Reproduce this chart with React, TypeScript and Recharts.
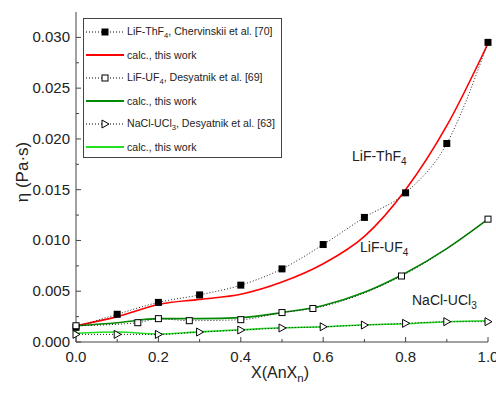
import { LineChart, Line, XAxis, YAxis } from 'recharts'

// LiF-ThF4, Chervinskii et al. [70]
const thf4ExpX = [0, 0.1, 0.2, 0.3, 0.4, 0.5, 0.6, 0.7, 0.8, 0.9, 1.0]
const thf4ExpY = [0.00145, 0.00273, 0.0039, 0.00464, 0.0056, 0.0072, 0.0096, 0.01227, 0.01469, 0.01955, 0.02951]

// LiF-UF4, Desyatnik et al. [69]
const uf4ExpX = [0, 0.15, 0.2, 0.275, 0.4, 0.5, 0.575, 0.79, 1.0]
const uf4ExpY = [0.0016, 0.0019, 0.0023, 0.0021, 0.0022, 0.0029, 0.0033, 0.0065, 0.0121]

// NaCl-UCl3, Desyatnik et al. [63]
const ucl3ExpX = [0, 0.1, 0.2, 0.3, 0.4, 0.5, 0.6, 0.7, 0.8, 0.9, 1.0]
const ucl3ExpY = [0.00075, 0.00075, 0.00075, 0.00098, 0.00118, 0.00138, 0.0015, 0.00167, 0.00184, 0.002, 0.002]

// calc., this work
const calcX = [0, 0.1, 0.2, 0.3, 0.4, 0.5, 0.6, 0.7, 0.8, 0.9, 1.0]
const thf4Calc = [0.0016, 0.0025, 0.0037, 0.0042, 0.0047, 0.0059, 0.0077, 0.0104, 0.015, 0.0213, 0.0294]
const uf4Calc = [0.0016, 0.0019, 0.0023, 0.0023, 0.0024, 0.0029, 0.0036, 0.0049, 0.0068, 0.0092, 0.0121]
const ucl3Calc = [0.00086, 0.00098, 0.00079, 0.001, 0.0012, 0.0014, 0.0015, 0.0017, 0.0018, 0.002, 0.0021]

const xTicks = [0, 0.1, 0.2, 0.3, 0.4, 0.5, 0.6, 0.7, 0.8, 0.9, 1.0]
const yTicks = [0, 0.0025, 0.005, 0.0075, 0.01, 0.0125, 0.015, 0.0175, 0.02, 0.0225, 0.025, 0.0275, 0.03]

const FONT = '"Liberation Sans", Arial, sans-serif'
const INK = '#222'
const FRAME = '#444'

const pts = (xs: number[], ys: number[]) => xs.map((x, i) => ({ x, y: ys[i] }))

const isMajorX = (v: number) => Math.round(v * 10) % 2 === 0
const isMajorY = (v: number) => Math.round(v * 10000) % 50 === 0

type TickProps = { x?: number; y?: number; payload?: { value: number } }

function BottomTick({ x = 0, y = 0, payload }: TickProps) {
  if (!payload) return null
  const major = isMajorX(payload.value)
  return (
    <g>
      <line x1={x} x2={x} y1={y} y2={y - (major ? 5 : 3)} stroke={FRAME} />
      {major && (
        <text x={x} y={y + 20} textAnchor="middle" fontSize={15} fill={INK} fontFamily={FONT}>
          {payload.value.toFixed(1)}
        </text>
      )}
    </g>
  )
}

function TopTick({ x = 0, y = 0, payload }: TickProps) {
  if (!payload) return null
  const major = isMajorX(payload.value)
  return <line x1={x} x2={x} y1={y} y2={y + (major ? 5 : 3)} stroke={FRAME} />
}

function LeftTick({ x = 0, y = 0, payload }: TickProps) {
  if (!payload) return null
  const major = isMajorY(payload.value)
  return (
    <g>
      <line x1={x} x2={x + (major ? 5 : 3)} y1={y} y2={y} stroke={FRAME} />
      {major && (
        <text x={x - 6} y={y + 5} textAnchor="end" fontSize={15} fill={INK} fontFamily={FONT}>
          {payload.value.toFixed(3)}
        </text>
      )}
    </g>
  )
}

function RightTick({ x = 0, y = 0, payload }: TickProps) {
  if (!payload) return null
  const major = isMajorY(payload.value)
  return <line x1={x} x2={x - (major ? 5 : 3)} y1={y} y2={y} stroke={FRAME} />
}

type DotProps = { cx?: number; cy?: number; index?: number }

const FilledSquare = ({ cx = 0, cy = 0, index }: DotProps) => (
  <rect key={`fs-${index}`} x={cx - 3.5} y={cy - 3.5} width={7} height={7} fill="#000" />
)
const OpenSquare = ({ cx = 0, cy = 0, index }: DotProps) => (
  <rect key={`os-${index}`} x={cx - 3} y={cy - 3} width={6} height={6} fill="#fff" stroke="#000" strokeWidth={1} />
)
const OpenTriangle = ({ cx = 0, cy = 0, index }: DotProps) => (
  <polygon
    key={`ot-${index}`}
    points={`${cx - 3},${cy - 4} ${cx + 4},${cy} ${cx - 3},${cy + 4}`}
    fill="#fff"
    stroke="#000"
    strokeWidth={1}
  />
)

function Sample({ color, dotted, marker }: { color: string; dotted?: boolean; marker?: 'fs' | 'os' | 'ot' }) {
  return (
    <svg width={40} height={12} style={{ display: 'block' }}>
      <line
        x1={1} x2={39} y1={6} y2={6}
        stroke={color}
        strokeWidth={dotted ? 1 : 2}
        strokeDasharray={dotted ? '1 2' : undefined}
      />
      {marker === 'fs' && <FilledSquare cx={20} cy={6} />}
      {marker === 'os' && <OpenSquare cx={20} cy={6} />}
      {marker === 'ot' && <OpenTriangle cx={20} cy={6} />}
    </svg>
  )
}

const subStyle = { fontSize: '0.72em', position: 'relative' as const, top: '0.35em' }

const legendRows: { label: React.ReactNode; color: string; dotted?: boolean; marker?: 'fs' | 'os' | 'ot' }[] = [
  { label: <>LiF-ThF<span style={subStyle}>4</span>, Chervinskii et al. [70]</>, color: '#000', dotted: true, marker: 'fs' },
  { label: 'calc., this work', color: '#ff0000' },
  { label: <>LiF-UF<span style={subStyle}>4</span>, Desyatnik et al. [69]</>, color: '#000', dotted: true, marker: 'os' },
  { label: 'calc., this work', color: '#008a00' },
  { label: <>NaCl-UCl<span style={subStyle}>3</span>, Desyatnik et al. [63]</>, color: '#000', dotted: true, marker: 'ot' },
  { label: 'calc., this work', color: '#22e022' },
]

export default function App() {
  return (
    <div style={{ position: 'absolute', left: 0, top: 0, width: 496, height: 393, overflow: 'hidden', background: '#fff', fontFamily: FONT }}>
      <LineChart width={496} height={393} margin={{ top: 12, right: 8, bottom: 0, left: 0 }}>
        <XAxis
          xAxisId="bottom"
          type="number"
          dataKey="x"
          domain={[0, 1]}
          ticks={xTicks}
          height={51}
          tickSize={0}
          tickMargin={0}
          tickLine={false}
          axisLine={{ stroke: FRAME }}
          tick={(p: object) => <BottomTick {...(p as TickProps)} />}
          interval={0}
        />
        <XAxis
          xAxisId="top"
          orientation="top"
          type="number"
          dataKey="x"
          domain={[0, 1]}
          ticks={xTicks}
          height={0}
          tickSize={0}
          tickMargin={0}
          tickLine={false}
          axisLine={{ stroke: FRAME }}
          tick={(p: object) => <TopTick {...(p as TickProps)} />}
          interval={0}
        />
        <YAxis
          yAxisId="left"
          type="number"
          domain={[0, 0.0325]}
          ticks={yTicks}
          width={76}
          tickSize={0}
          tickMargin={0}
          tickLine={false}
          axisLine={{ stroke: FRAME }}
          tick={(p: object) => <LeftTick {...(p as TickProps)} />}
          interval={0}
          allowDataOverflow
        />
        <YAxis
          yAxisId="right"
          orientation="right"
          type="number"
          domain={[0, 0.0325]}
          ticks={yTicks}
          width={0}
          tickSize={0}
          tickMargin={0}
          tickLine={false}
          axisLine={{ stroke: FRAME }}
          tick={(p: object) => <RightTick {...(p as TickProps)} />}
          interval={0}
          allowDataOverflow
        />

        <Line xAxisId="bottom" yAxisId="left" data={pts(calcX, thf4Calc)} dataKey="y" type="monotone"
          stroke="#ff0000" strokeWidth={1.6} dot={false} isAnimationActive={false} />
        <Line xAxisId="bottom" yAxisId="left" data={pts(calcX, uf4Calc)} dataKey="y" type="monotone"
          stroke="#008a00" strokeWidth={1.6} dot={false} isAnimationActive={false} />
        <Line xAxisId="bottom" yAxisId="left" data={pts(calcX, ucl3Calc)} dataKey="y" type="monotone"
          stroke="#22e022" strokeWidth={1.6} dot={false} isAnimationActive={false} />

        <Line xAxisId="bottom" yAxisId="left" data={pts(thf4ExpX, thf4ExpY)} dataKey="y" type="monotone"
          stroke="#222" strokeWidth={1} strokeDasharray="1 2" isAnimationActive={false}
          dot={(p: object) => <FilledSquare {...(p as DotProps)} />} />
        <Line xAxisId="bottom" yAxisId="left" data={pts(uf4ExpX, uf4ExpY)} dataKey="y" type="monotone"
          stroke="#222" strokeWidth={1} strokeDasharray="1 2" isAnimationActive={false}
          dot={(p: object) => <OpenSquare {...(p as DotProps)} />} />
        <Line xAxisId="bottom" yAxisId="left" data={pts(ucl3ExpX, ucl3ExpY)} dataKey="y" type="monotone"
          stroke="#222" strokeWidth={1} strokeDasharray="1 2" isAnimationActive={false}
          dot={(p: object) => <OpenTriangle {...(p as DotProps)} />} />
      </LineChart>

      {/* legend */}
      <div style={{ position: 'absolute', left: 83, top: 18, width: 197, height: 138, border: `1px solid ${FRAME}`, background: '#fff' }}>
        {legendRows.map((r, i) => (
          <div key={i} style={{ position: 'absolute', left: 1, top: 7 + 23 * i, height: 12, display: 'flex', alignItems: 'center', whiteSpace: 'nowrap' }}>
            <Sample color={r.color} dotted={r.dotted} marker={r.marker} />
            <span style={{ fontSize: 10.6, color: INK, marginLeft: 2, lineHeight: '12px' }}>{r.label}</span>
          </div>
        ))}
      </div>

      {/* curve annotations */}
      <div style={{ position: 'absolute', left: 352, top: 148, fontSize: 14, lineHeight: '16px', color: INK, whiteSpace: 'nowrap' }}>
        LiF-ThF<span style={subStyle}>4</span>
      </div>
      <div style={{ position: 'absolute', left: 360, top: 239, fontSize: 14, lineHeight: '16px', color: INK, whiteSpace: 'nowrap' }}>
        LiF-UF<span style={subStyle}>4</span>
      </div>
      <div style={{ position: 'absolute', left: 412, top: 292, fontSize: 14, lineHeight: '16px', color: INK, whiteSpace: 'nowrap' }}>
        NaCl-UCl<span style={subStyle}>3</span>
      </div>

      {/* axis titles */}
      <div style={{ position: 'absolute', left: 180, top: 364, width: 200, textAlign: 'center', fontSize: 16, lineHeight: '18px', color: INK, whiteSpace: 'nowrap' }}>
        X(AnX<span style={subStyle}>n</span>)
      </div>
      <div style={{ position: 'absolute', left: 23, top: 172, width: 0, height: 0 }}>
        <div style={{ position: 'absolute', left: 0, top: 0, transform: 'translate(-50%, -50%) rotate(-90deg)', fontSize: 17, lineHeight: '20px', color: INK, whiteSpace: 'nowrap' }}>
          η (Pa·s)
        </div>
      </div>
    </div>
  )
}
